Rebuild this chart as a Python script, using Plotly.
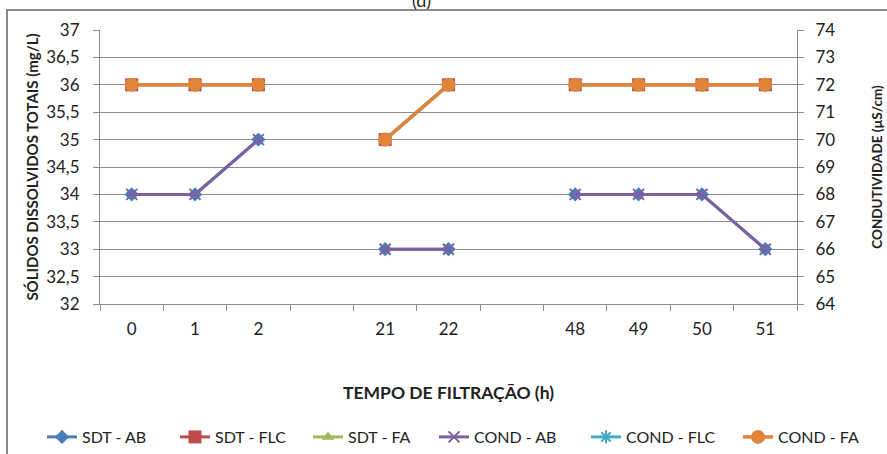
import plotly.graph_objects as go

categories = ["0", "1", "2", " ", "21", "22", "  ", "48", "49", "50", "51"]

sdt_ab  = [34, 34, 35, None, 33, 33, None, 34, 34, 34, 33]
sdt_flc = [36, 36, 36, None, 35, 36, None, 36, 36, 36, 36]
sdt_fa  = [36, 36, 36, None, 35, 36, None, 36, 36, 36, 36]
cond_ab  = [68, 68, 70, None, 66, 66, None, 68, 68, 68, 66]
cond_flc = [72, 72, 72, None, 70, 72, None, 72, 72, 72, 72]
cond_fa  = [72, 72, 72, None, 70, 72, None, 72, 72, 72, 72]

FONT = "Lato"
GRID = "#8c8c8c"

fig = go.Figure()

def add(name, y, color, symbol, size, axis, legend, width=3, mline=None):
    fig.add_trace(go.Scatter(
        x=categories, y=y, name=name, mode="lines+markers",
        line=dict(color=color, width=width), connectgaps=False,
        marker=dict(symbol=symbol, size=size, color=color,
                    line=mline or dict(width=0)),
        yaxis=axis, legend=legend, hoverinfo="skip"))

add("SDT - AB", sdt_ab, "#4a7ebb", "diamond", 11, "y", "legend")
add("SDT - FLC", sdt_flc, "#be4b48", "square", 13, "y", "legend")
add("SDT - FA", sdt_fa, "#98b954", "triangle-up", 11, "y", "legend")
add("COND - AB", cond_ab, "#7d60a0", "x-thin", 11, "y2", "legend2",
    mline=dict(width=2, color="#7d60a0"))
add("COND - FLC", cond_flc, "#46aac5", "asterisk", 11, "y2", "legend2",
    mline=dict(width=2, color="#46aac5"))
add("COND - FA", cond_fa, "#e0843a", "circle", 14, "y2", "legend2", width=3.5)

L, R, T, B = 100, 90, 30, 150
W, H = 887, 454
pw, ph = W - L - R, H - T - B

def px_x(x):
    return (x - L) / pw

def px_y(y):
    return (T + ph - y) / ph

legend_common = dict(orientation="h", yanchor="middle", y=px_y(437), xanchor="left",
                     font=dict(size=16), entrywidthmode="pixels", tracegroupgap=0,
                     bgcolor="rgba(0,0,0,0)")

fig.update_layout(
    width=W, height=H,
    margin=dict(l=L, r=R, t=T, b=B, autoexpand=False),
    paper_bgcolor="white", plot_bgcolor="white",
    separators=", ",
    font=dict(family=FONT, size=16, color="#222"),
    showlegend=True,
    legend=dict(legend_common, x=px_x(42), entrywidth=88),
    legend2=dict(legend_common, x=px_x(434), entrywidth=107),
    xaxis=dict(type="category", categoryorder="array", categoryarray=categories,
               range=[-0.5, len(categories) - 0.5], automargin=False,
               showline=True, linecolor=GRID, linewidth=1,
               ticks="outside", tickson="boundaries", ticklen=6, tickcolor=GRID,
               ticklabelstandoff=10, tickfont=dict(size=17),
               showgrid=False, zeroline=False,
               title=dict(text="<b>TEMPO DE FILTRAÇÃO (h)</b>", font=dict(size=17.5),
                          standoff=48)),
    yaxis=dict(range=[32, 37], dtick=0.5, tick0=32, automargin=False,
               showline=True, linecolor=GRID, linewidth=1,
               ticks="outside", ticklen=6, tickcolor=GRID, tickfont=dict(size=17),
               ticklabelstandoff=10,
               showgrid=True, gridcolor=GRID, gridwidth=1, zeroline=False,
               title=dict(text="<b>SÓLIDOS DISSOLVIDOS TOTAIS (mg/L)</b>",
                          font=dict(size=15), standoff=3)),
    yaxis2=dict(range=[64, 74], dtick=1, tick0=64, overlaying="y", side="right",
                automargin=False,
                showline=True, linecolor=GRID, linewidth=1,
                ticks="outside", ticklen=6, tickcolor=GRID, tickfont=dict(size=17),
                ticklabelstandoff=8,
                showgrid=False, zeroline=False,
                title=dict(text="<b>CONDUTIVIDADE (µS/cm)</b>",
                           font=dict(size=13.5), standoff=38)),
)

# outer chart frame
fig.add_shape(type="rect", xref="paper", yref="paper",
              x0=px_x(7), x1=px_x(W + 5), y0=px_y(H + 5), y1=px_y(10),
              line=dict(color="#8a8a8a", width=2), fillcolor="rgba(0,0,0,0)",
              layer="below")

fig.add_annotation(text="(d)", xref="paper", yref="paper",
                   x=px_x(421), y=px_y(0), yanchor="middle",
                   showarrow=False, font=dict(size=18, color="#222"))

fig.write_html("out.html", config={"displayModeBar": False},
               post_script="document.body.style.margin='0';")
